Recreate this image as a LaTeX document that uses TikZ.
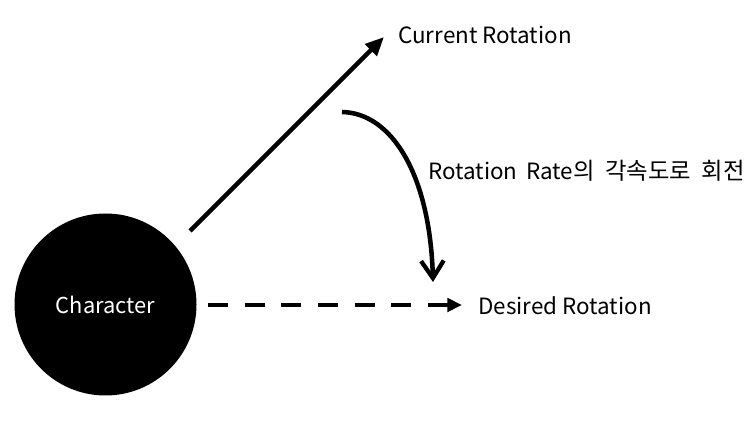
\documentclass[tikz,border=0pt]{standalone}
\usepackage{fontspec}
\setmainfont{Noto Sans CJK KR}
\usetikzlibrary{arrows.meta}
\newcommand{\hg}[1]{{\fontsize{17.5pt}{20pt}\selectfont #1}}
\tikzset{
  lbl/.style={anchor=base west, inner sep=0pt, font=\fontsize{16.8pt}{20pt}\selectfont},
  arr/.style={line width=3.4pt},
  char/.style={circle, fill=black, minimum size=136.5pt, inner sep=0pt, text=white, font=\fontsize{16.4pt}{20pt}\selectfont},
}
\begin{document}
\begin{tikzpicture}[x=0.75pt,y=-0.75pt]
\useasboundingbox (0,0) rectangle (750,423);
\node[char] (c) at (105.5,304.5) {Character};
\coordinate (d0) at (190,231);
\coordinate (d1) at (384,37);
\coordinate (c0) at (342,112);
\coordinate (c1) at (433,282);
\coordinate (h0) at (208,305);
\coordinate (h1) at (462,305);
\node[lbl] (cur) at (398,44) {Current Rotation};
\node[lbl] (rate) at (428,180) {Rotation\hspace{3pt} Rate\hg{의\hspace{4pt} 각속도로\hspace{4pt} 회전}};
\node[lbl] (des) at (478,315) {Desired Rotation};
\draw[arr, -{Triangle[length=14pt,width=12pt]}] (d0) -- (d1);
\draw[arr, -{Straight Barb[length=13pt,width=17pt,line width=3.2pt]}] (c0) .. controls (392,113) and (430,175) .. (c1);
\draw[arr, dash pattern=on 15pt off 12.5pt, -{Triangle[length=11pt,width=10pt]}] (h0) -- (h1);
\end{tikzpicture}
\end{document}
